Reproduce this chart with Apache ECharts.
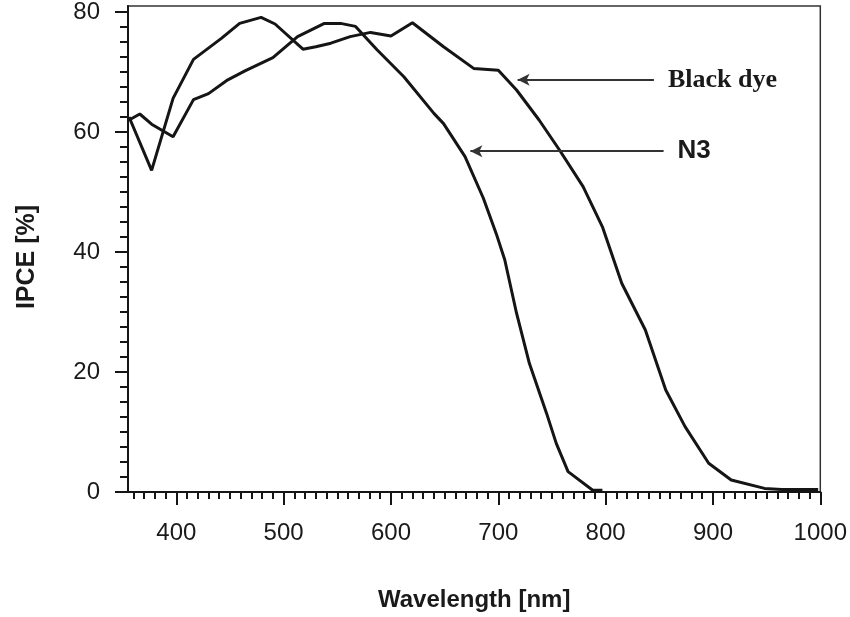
<!DOCTYPE html>
<html>
<head>
<meta charset="utf-8">
<script src="https://cdn.jsdelivr.net/npm/echarts@6/dist/echarts.min.js"></script>
<style>
html,body{margin:0;padding:0;background:#fff;}
#chart{width:850px;height:617px;}
</style>
</head>
<body>
<div id="chart"></div>
<script>
// ---- data ----
const blackDyeNm   = [356, 377, 397, 416, 442, 459, 479, 492, 518, 530, 544, 562, 581, 600, 620, 649, 677, 700, 717, 738, 757, 779, 797, 815, 837, 856, 874, 896, 917, 948, 964, 998];
const blackDyeIpce = [62.5, 53.6, 65.6, 72.1, 75.6, 78.1, 79.1, 78.0, 73.8, 74.2, 74.8, 75.9, 76.6, 76.0, 78.2, 74.2, 70.6, 70.3, 67.0, 62.0, 57.0, 50.9, 44.2, 34.8, 27.0, 17.0, 10.9, 4.8, 2.0, 0.6, 0.4, 0.4];

const n3Nm   = [356, 366, 377, 397, 416, 430, 448, 464, 490, 513, 538, 553, 567, 587, 612, 640, 649, 669, 686, 698, 706, 717, 729, 745, 754, 765, 788, 797];
const n3Ipce = [62.0, 63.0, 61.3, 59.2, 65.4, 66.4, 68.7, 70.2, 72.4, 75.9, 78.1, 78.1, 77.6, 73.7, 69.2, 63.1, 61.4, 55.9, 49.0, 43.1, 38.7, 29.8, 21.4, 13.1, 8.1, 3.4, 0.3, 0.3];

const xTickLabels = [400, 500, 600, 700, 800, 900, 1000];
const yTickLabels = [0, 20, 40, 60, 80];
const seriesNames = ['Black dye', 'N3'];

// annotation arrows: [tailX, tipX, y]
const blackDyeArrow = [845, 718, 68.7];
const n3Arrow       = [854, 674, 56.8];

// minor ticks
const xMinor = []; for (let v = 360; v <= 1000; v += 10) xMinor.push(v);
const yMinor = []; for (let v = 0; v <= 80; v += 2.5) yMinor.push(v);

const pairs = (xs, ys) => xs.map((x, i) => [x, ys[i]]);

const chart = echarts.init(document.getElementById('chart'), null, {renderer: 'canvas'});
const ink = '#151515';
const plain = v => String(v);

function arrowLine(a, text, font) {
  return {
    silent: true,
    symbol: ['none', 'arrow'],
    symbolSize: [9, 12],
    lineStyle: {color: '#333', width: 2, type: 'solid'},
    label: {
      show: true, position: 'start', distance: 14,
      formatter: text,
      color: '#1a1a1a',
      fontFamily: font.family, fontWeight: 'bold', fontSize: font.size
    },
    data: [[{coord: [a[0], a[2]]}, {coord: [a[1], a[2]]}]]
  };
}

chart.setOption({
  animation: false,
  backgroundColor: '#fff',
  grid: {left: 128, right: 29, top: 6, bottom: 124, show: true, borderColor: '#333', borderWidth: 1.5},
  xAxis: [{
    type: 'value', min: 355, max: 1000, position: 'bottom',
    name: 'Wavelength [nm]', nameLocation: 'middle', nameGap: 96,
    nameTextStyle: {fontFamily: 'Liberation Sans', fontWeight: 'bold', fontSize: 24, color: '#1a1a1a'},
    axisLine: {show: true, lineStyle: {color: ink, width: 2}},
    axisTick: {show: true, customValues: xTickLabels, length: 13, lineStyle: {color: ink, width: 2}},
    axisLabel: {customValues: xTickLabels, formatter: plain, margin: 29, fontFamily: 'Liberation Sans', fontSize: 24, color: '#1a1a1a'},
    splitLine: {show: false}
  }, {
    type: 'value', min: 355, max: 1000, position: 'bottom',
    axisLine: {show: false},
    axisTick: {show: true, customValues: xMinor, length: 7, lineStyle: {color: ink, width: 2}},
    axisLabel: {show: false},
    splitLine: {show: false}
  }],
  yAxis: [{
    type: 'value', min: 0, max: 81, position: 'left',
    name: 'IPCE [%]', nameLocation: 'middle', nameGap: 88,
    nameTextStyle: {fontFamily: 'Liberation Sans', fontWeight: 'bold', fontSize: 25, color: '#1a1a1a', padding: [0, 16, 0, 0]},
    axisLine: {show: true, lineStyle: {color: ink, width: 2}},
    axisTick: {show: true, customValues: yTickLabels, length: 13, lineStyle: {color: ink, width: 2}},
    axisLabel: {customValues: yTickLabels, formatter: plain, margin: 28, fontFamily: 'Liberation Sans', fontSize: 24, color: '#1a1a1a'},
    splitLine: {show: false}
  }, {
    type: 'value', min: 0, max: 81, position: 'left',
    axisLine: {show: false},
    axisTick: {show: true, customValues: yMinor, length: 8, lineStyle: {color: ink, width: 2}},
    axisLabel: {show: false},
    splitLine: {show: false}
  }],
  series: [{
    name: seriesNames[0], type: 'line', xAxisIndex: 0, yAxisIndex: 0,
    data: pairs(blackDyeNm, blackDyeIpce),
    showSymbol: false, lineStyle: {color: ink, width: 3}, z: 3,
    markLine: arrowLine(blackDyeArrow, seriesNames[0], {family: 'Liberation Serif', size: 26})
  }, {
    name: seriesNames[1], type: 'line', xAxisIndex: 0, yAxisIndex: 0,
    data: pairs(n3Nm, n3Ipce),
    showSymbol: false, lineStyle: {color: ink, width: 3}, z: 3,
    markLine: arrowLine(n3Arrow, seriesNames[1], {family: 'Liberation Sans', size: 26})
  }]
});
</script>
</body>
</html>
